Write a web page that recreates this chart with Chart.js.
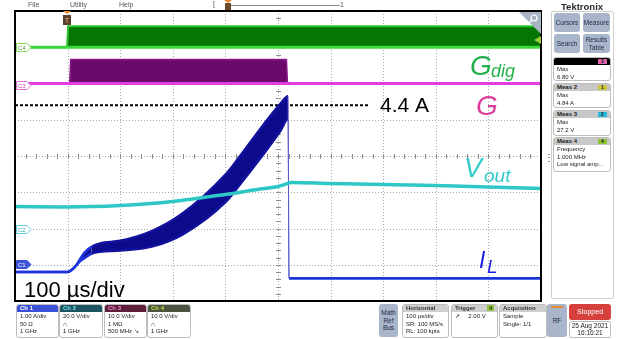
<!DOCTYPE html>
<html>
<head>
<meta charset="utf-8">
<title>Scope capture</title>
<script src="https://cdn.jsdelivr.net/npm/chart.js@4.4.1/dist/chart.umd.min.js"></script>
<style>
  body { margin: 0; width: 625px; height: 339px; overflow: hidden; background: #fff;
         font-family: "Liberation Sans", Arial, sans-serif; position: relative; color: #333; }
  #scope { position: absolute; left: 0; top: 0; }
  .a { position: absolute; }
  .menu { top: 1px; font-size: 7px; color: #555; }
  .frame { left: 14px; top: 10px; width: 524px; height: 288px; border: 2px solid #000; pointer-events: none; }
  .badge { position: absolute; top: 304px; height: 32px; border: 1px solid #bdbdbd; border-radius: 3px;
           background: #fff; font-size: 6px; line-height: 7.6px; overflow: hidden; color: #222; white-space: nowrap; }
  .badge .h { height: 7px; line-height: 7.5px; padding-left: 3px; font-weight: bold; background: #cfcfcf; color: #333; }
  .badge .b { padding: 1px 3px; }
  .btn { position: absolute; background: #a9b5cb; border-radius: 3px; font-size: 6.5px; line-height: 7.5px;
         color: #1e2a40; display: flex; align-items: center; justify-content: center; text-align: center; }
  .meas { position: absolute; left: 553px; width: 56px; border: 1px solid #bdbdbd; border-radius: 3px;
          font-size: 6px; line-height: 7.5px; overflow: hidden; background: #fff; color: #222; white-space: nowrap; }
  .meas .h { height: 7px; line-height: 7.5px; padding-left: 3px; background: #c8c8c8; font-weight: bold; position: relative; }
  .meas .b { padding: 1px 3px; }
  .chip { position: absolute; right: 3px; top: 1px; width: 9px; height: 5px; font-size: 5px; line-height: 5px;
          text-align: center; color: #222; }
</style>
</head>
<body>
<canvas id="scope" width="625" height="339"></canvas>

<!-- top menu -->
<div class="a menu" style="left:28px">File</div>
<div class="a menu" style="left:70px">Utility</div>
<div class="a menu" style="left:119px">Help</div>
<div class="a" style="left:213px;top:0px;font-size:7px;color:#555">[</div>
<div class="a" style="left:229px;top:5px;width:111px;height:1px;background:#888"></div>
<div class="a" style="left:340px;top:1px;font-size:7px;color:#555">1</div>
<svg class="a" style="left:224px;top:0px" width="8" height="11"><polygon points="0,0 8,0 4,3" fill="#e8892a"/><rect x="1" y="3" width="6" height="7" fill="#6b4a2a"/></svg>

<!-- plot frame and markers -->
<div class="a frame"></div>
<svg class="a" style="left:62px;top:11px" width="10" height="15"><polygon points="1,0 9,0 5,3" fill="#e8892a"/><rect x="1" y="4" width="8" height="10" fill="#5a4030"/><text x="5" y="12" font-size="7" fill="#f0c080" text-anchor="middle" font-family="Liberation Sans">T</text></svg>
<svg class="a" style="left:519px;top:12px" width="22" height="22"><polygon points="0,0 22,0 22,22" fill="#a9b3c6"/><circle cx="15" cy="6" r="3" fill="none" stroke="#fff" stroke-width="1.2"/><line x1="13" y1="8" x2="10" y2="11" stroke="#fff" stroke-width="1.2"/></svg>
<svg class="a" style="left:534px;top:36px" width="7" height="8"><polygon points="0,4 7,0 7,8" fill="#9ccc3c"/></svg>

<svg class="a" style="left:16px;top:43px" width="16" height="9"><polygon points="0.5,0.5 11,0.5 15,4.5 11,8.5 0.5,8.5" fill="#fff" stroke="#7ed957"/><text x="2" y="7" font-size="6" fill="#4aa83a" font-family="Liberation Sans">C4</text></svg>
<svg class="a" style="left:16px;top:81px" width="16" height="9"><polygon points="0.5,0.5 11,0.5 15,4.5 11,8.5 0.5,8.5" fill="#fff" stroke="#e070d0"/><text x="2" y="7" font-size="6" fill="#d040c0" font-family="Liberation Sans">C3</text></svg>
<svg class="a" style="left:16px;top:225px" width="16" height="9"><polygon points="0.5,0.5 11,0.5 15,4.5 11,8.5 0.5,8.5" fill="#fff" stroke="#60d0e0"/><text x="2" y="7" font-size="6" fill="#30b0c0" font-family="Liberation Sans">C2</text></svg>
<svg class="a" style="left:16px;top:260px" width="16" height="9"><polygon points="0.5,0.5 11,0.5 15,4.5 11,8.5 0.5,8.5" fill="#3b52d6" stroke="#3b52d6"/><text x="2" y="7" font-size="6" fill="#fff" font-family="Liberation Sans">C1</text></svg>

<!-- right panel -->
<div class="a" style="left:561px;top:1px;font-size:9.5px;font-weight:bold;color:#2b2b2b">Tektronix</div>
<div class="a" style="left:551px;top:11px;width:61px;height:286px;border:1px solid #cfcfcf;border-radius:2px"></div>
<div class="btn" style="left:554px;top:13px;width:26px;height:19px">Cursors</div>
<div class="btn" style="left:583px;top:13px;width:27px;height:19px">Measure</div>
<div class="btn" style="left:554px;top:34px;width:26px;height:19px">Search</div>
<div class="btn" style="left:583px;top:34px;width:27px;height:19px">Results<br>Table</div>
<div class="meas" style="top:57px;height:22px"><div class="h" style="background:#000"><span class="chip" style="background:#e060a8">3</span></div><div class="b">Max<br>6.80 V</div></div>
<div class="meas" style="top:83px;height:23px"><div class="h">Meas 2<span class="chip" style="background:#c8c43c">1</span></div><div class="b">Max<br>4.84 A</div></div>
<div class="meas" style="top:110px;height:24px"><div class="h">Meas 3<span class="chip" style="background:#2bbbd8">2</span></div><div class="b">Max<br>27.2 V</div></div>
<div class="meas" style="top:137px;height:33px"><div class="h">Meas 4<span class="chip" style="background:#8cc43c">4</span></div><div class="b">Frequency<br>1.000 MHz<br>Low signal amp...</div></div>
<div class="a" style="left:544px;top:152px;font-size:10px;color:#333">&#8942;</div>

<!-- bottom channel badges -->
<div class="badge" style="left:16px;width:41px"><div class="h" style="background:#3b52d6;color:#fff">Ch 1</div><div class="b">1.00 A/div<br>50 &Omega;<br>1 GHz</div></div>
<div class="badge" style="left:59px;width:42px"><div class="h" style="background:#1c5560;color:#6fe0f0">Ch 2</div><div class="b">20.0 V/div<br>&#8745;<br>1 GHz</div></div>
<div class="badge" style="left:104px;width:41px"><div class="h" style="background:#5e1f3c;color:#f090c8">Ch 3</div><div class="b">10.0 V/div<br>1 M&Omega;<br>500 MHz &#8600;</div></div>
<div class="badge" style="left:147px;width:42px"><div class="h" style="background:#4a5440;color:#b8e040">Ch 4</div><div class="b">10.0 V/div<br>&#8745;<br>1 GHz</div></div>

<div class="btn" style="left:379px;top:304px;width:19px;height:33px">Math<br>Ref<br>Bus</div>
<div class="badge" style="left:402px;width:45px"><div class="h">Horizontal</div><div class="b">100 &micro;s/div<br>SR: 100 MS/s<br>RL: 100 kpts</div></div>
<div class="badge" style="left:451px;width:45px"><div class="h">Trigger <span style="background:#8cc43c;padding:0 2px;margin-left:10px">4</span></div><div class="b">&#10138; &nbsp;&nbsp;&nbsp;&nbsp;2.00 V</div></div>
<div class="badge" style="left:499px;width:46px"><div class="h">Acquisition</div><div class="b">Sample<br>Single: 1/1</div></div>
<div class="btn" style="left:547px;top:304px;width:20px;height:33px">RF</div>
<div class="a" style="left:551px;top:306px;width:12px;height:1.5px;background:#e8892a"></div>
<div class="a" style="left:569px;top:304px;width:42px;height:16px;background:#d6413e;border-radius:3px;color:#fff;font-size:7px;line-height:16px;text-align:center">Stopped</div>
<div class="a" style="left:569px;top:321px;width:40px;height:15px;border:1px solid #bdbdbd;border-radius:2px;font-size:6.5px;line-height:7.2px;text-align:center;color:#222">25 Aug 2021<br>16:16:21</div>

<script>
// time base: 100 us/div, 10 divisions, trigger at 100 us

// Ch1 inductor current I_L (A), envelope of the 1 MHz ripple
const tIL = [0, 100, 114, 124, 133, 146, 162, 200, 260, 319, 401, 428, 466, 504, 519, 521, 1000];
const iLHigh = [-0.2, -0.2, -0.06, 0.16, 0.35, 0.5, 0.59, 0.66, 0.93, 1.42, 2.5, 3.0, 3.74, 4.43, 4.65, -0.37, -0.37];
const iLLow = [-0.2, -0.2, -0.06, 0.1, 0.19, 0.31, 0.36, 0.39, 0.5, 0.84, 1.74, 2.22, 2.93, 3.68, 4.02, -0.37, -0.37];

// Ch2 output voltage V_out (V)
const tVout = [0, 100, 200, 300, 400, 460, 500, 515, 525, 600, 800, 1000];
const vOut = [12.1, 11.9, 12.7, 14.9, 18.8, 21.5, 23.2, 24.5, 25.4, 24.8, 23.7, 22.1];

// Ch3 gate drive G (V)
const tGate = [0, 104, 106, 516, 518, 1000];
const gateHigh = [0, 0, 6.6, 6.6, 0, 0];
const gateLow = [0, 0, 0, 0, 0, 0];

// Ch4 digital gate signal G_dig (V)
const tDig = [0, 99, 101, 1000];
const digHigh = [0, 0, 5.8, 5.8];
const digLow = [0, 0, 0, 0];

// marker line
const markerTime = [0, 671];
const markerLevel = [4.4, 4.4];

function pts(xs, ys) {
  return xs.map((x, i) => ({ x: x, y: ys[i] }));
}

// current trace: bright where single line, dark inside the ripple band, thin on the turn-off edge
function ilColor(ctx) {
  let dy = Math.abs(ctx.p1.parsed.y - ctx.p0.parsed.y);
  if (dy > 2) return "#5a5ad0";
  return ctx.p0.parsed.x >= 146 && ctx.p0.parsed.x < 519 ? "#12129e" : "#1c34dc";
}
function ilWidth(ctx) {
  return Math.abs(ctx.p1.parsed.y - ctx.p0.parsed.y) > 2 ? 1 : 2.5;
}

// dotted graticule with minor ticks on the centre lines
let graticule = {
  id: "graticule",
  beforeDatasetsDraw(chart) {
    let ctx = chart.ctx;
    let a = chart.chartArea;
    let xs = chart.scales.x;
    let ys = chart.scales.div;
    ctx.save();
    ctx.fillStyle = "#a8a8a8";
    for (let t = 100; t < 1000; t += 100) {
      let px = Math.round(xs.getPixelForValue(t));
      for (let py = Math.ceil(a.top); py < a.bottom; py += 3) ctx.fillRect(px, py, 1, 1);
    }
    for (let d = 1; d < 8; d++) {
      let py = Math.round(ys.getPixelForValue(d));
      for (let px = Math.ceil(a.left); px < a.right; px += 3) ctx.fillRect(px, py, 1, 1);
    }
    let cy = Math.round(ys.getPixelForValue(4));
    let cx = Math.round(xs.getPixelForValue(500));
    ctx.fillStyle = "#8c8c8c";
    for (let t = 0; t <= 1000; t += 20) {
      let px = Math.round(xs.getPixelForValue(t));
      ctx.fillRect(px, cy - 2, 1, 5);
    }
    for (let k = 0; k <= 40; k++) {
      let py = Math.round(ys.getPixelForValue(k / 5));
      ctx.fillRect(cx - 2, py, 5, 1);
    }
    ctx.restore();
  },
};

// labels drawn over the traces
let traceLabels = {
  id: "traceLabels",
  afterDatasetsDraw(chart) {
    let ctx = chart.ctx;
    ctx.save();
    ctx.textBaseline = "alphabetic";
    let put = (txt, x, y, size, color, italic) => {
      ctx.font = (italic ? "italic " : "") + size + "px 'Liberation Sans', Arial, sans-serif";
      ctx.fillStyle = color;
      ctx.fillText(txt, x, y);
    };
    put("G", 470, 75, 28, "#22b04c", true);
    put("dig", 491, 77, 18, "#22b04c", true);
    put("G", 476, 115, 28, "#dc3c9c", true);
    put("V", 464, 177, 27, "#33cccc", true);
    put("out", 484, 182, 19, "#33cccc", true);
    put("I", 479, 268, 23, "#1f1fe0", true);
    put("L", 487, 273, 19, "#1f1fe0", true);
    put("4.4 A", 380, 112, 21, "#000", false);
    put("100 \u00b5s/div", 24, 297, 22, "#000", false);
    ctx.restore();
  },
};

let scopeChart = new Chart(document.getElementById("scope").getContext("2d"), {
  type: "line",
  data: {
    datasets: [
      {
        data: pts(tVout, vOut),
        yAxisID: "ch2",
        borderColor: "#2fc6c6",
        borderWidth: 3.5,
        cubicInterpolationMode: "monotone",
      },
      {
        data: pts(tIL, iLLow),
        yAxisID: "ch1",
        borderColor: "#1c34dc",
        borderWidth: 2.5,
        cubicInterpolationMode: "monotone",
        segment: { borderColor: ilColor, borderWidth: ilWidth },
      },
      {
        data: pts(tIL, iLHigh),
        yAxisID: "ch1",
        borderColor: "#1c34dc",
        backgroundColor: "#0b0b8c",
        borderWidth: 2.5,
        fill: "-1",
        cubicInterpolationMode: "monotone",
        segment: { borderColor: ilColor, borderWidth: ilWidth },
      },
      {
        data: pts(markerTime, markerLevel),
        yAxisID: "ch1",
        borderColor: "#000",
        borderWidth: 2,
        borderDash: [3, 2],
      },
      {
        data: pts(tGate, gateLow),
        yAxisID: "ch3",
        borderColor: "#e23ce2",
        borderWidth: 3,
      },
      {
        data: pts(tGate, gateHigh),
        yAxisID: "ch3",
        borderColor: "#8a1a8a",
        backgroundColor: "#6c0a6c",
        borderWidth: 1.5,
        fill: "-1",
      },
      {
        data: pts(tDig, digLow),
        yAxisID: "ch4",
        borderColor: "#3ad83a",
        borderWidth: 3,
      },
      {
        data: pts(tDig, digHigh),
        yAxisID: "ch4",
        borderColor: "#2cc42c",
        backgroundColor: "#037603",
        borderWidth: 2,
        fill: "-1",
      },
    ],
  },
  options: {
    responsive: false,
    animation: false,
    layout: { padding: { left: 15, top: 11, right: 84, bottom: 38 } },
    elements: { point: { radius: 0 } },
    plugins: { legend: { display: false }, tooltip: { enabled: false } },
    scales: {
      x: {
        type: "linear",
        min: 0,
        max: 1000,
        ticks: { display: false, stepSize: 100 },
        grid: { display: false, drawTicks: false },
        border: { display: false },
      },
      div: {
        type: "linear",
        position: "left",
        min: 0,
        max: 8,
        ticks: { display: false, stepSize: 1 },
        grid: { display: false, drawTicks: false },
        border: { display: false },
      },
      ch1: { display: false, min: -1, max: 7 },
      ch2: { display: false, min: -40, max: 120 },
      ch3: { display: false, min: -60, max: 20 },
      ch4: { display: false, min: -70, max: 10 },
    },
  },
  plugins: [graticule, traceLabels],
});
</script>
</body>
</html>
